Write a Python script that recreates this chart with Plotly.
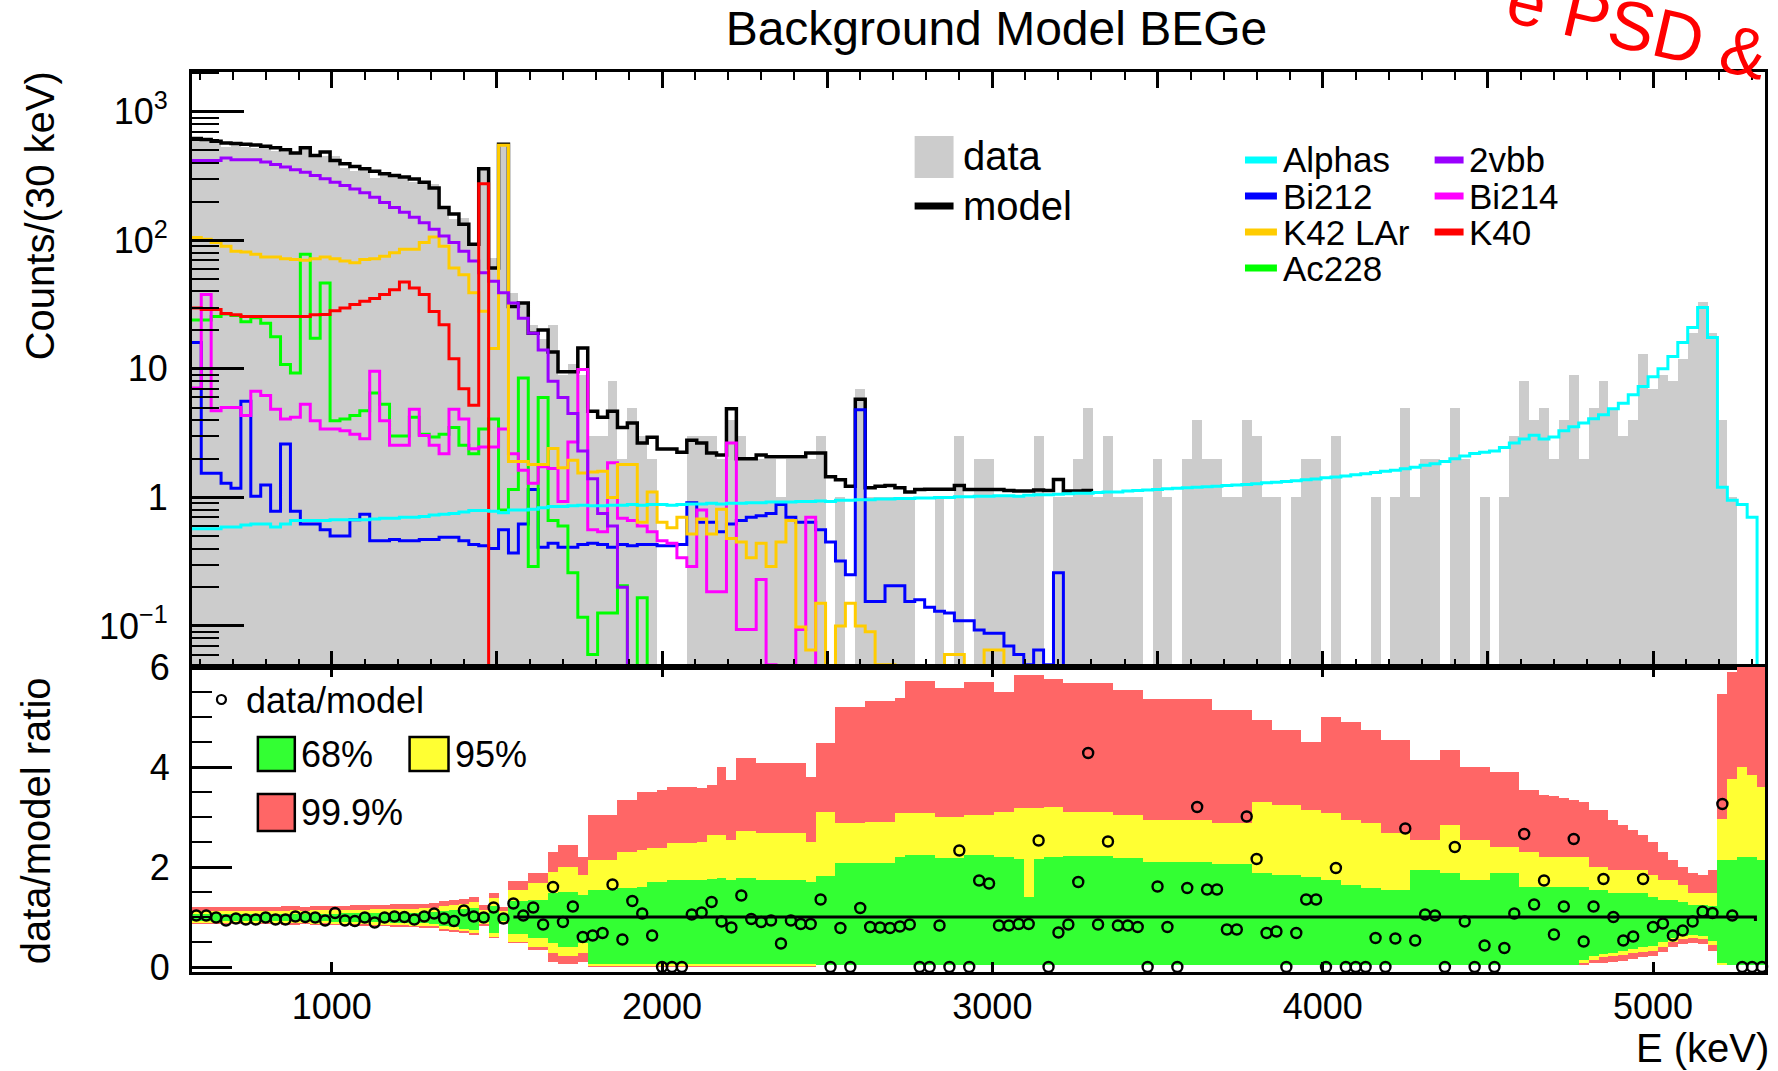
import numpy as np
import plotly.graph_objects as go

# ---------------- binning (30 keV bins) ----------------
bin_start = 575.0
bin_width = 30.0
n_bins = 159
x_range = [577, 5339]

# ---------------- top panel: counts per 30 keV ----------------
data_counts = [
    637, 625, 583, 531, 548, 530, 523, 533, 499, 482,
    483, 525, 452, 452, 451, 366, 345, 356, 307, 326,
    322, 310, 285, 286, 273, 175, 147, 150, 94, 356,
    73, 541, 39, 33, 22, 17, 22, 9, 11, 9,
    3, 3, 8, 2, 5, 3, 2, 0, 0, 0,
    3, 3, 3, 2, 4, 3, 2, 2, 2, 1,
    2, 2, 2, 3, 0, 1, 0, 7, 1, 1,
    1, 1, 1, 0, 0, 1, 0, 3, 0, 2,
    2, 1, 1, 1, 1, 3, 0, 1, 1, 2,
    5, 1, 3, 1, 1, 1, 0, 2, 1, 0,
    2, 4, 2, 2, 1, 1, 4, 3, 1, 1,
    0, 1, 2, 2, 0, 3, 0, 0, 0, 1,
    0, 1, 5, 1, 2, 2, 0, 5, 2, 0,
    1, 0, 1, 3, 8, 4, 5, 2, 4, 9,
    2, 5, 8, 5, 3, 4, 13, 7, 9, 8,
    12, 19, 33, 19, 4, 1, 0, 0, 0]

model = [
    618, 607, 589, 571, 565, 558, 551, 538, 525, 507,
    478, 525, 457, 486, 418, 394, 375, 360, 345, 329,
    319, 310, 300, 283, 255, 180, 160, 133, 93, 360,
    61, 558, 30.6, 32.5, 18.9, 20.1, 13.5, 9.5, 9.5, 14.5,
    4.67, 4.2, 4.67, 3.5, 3.8, 2.65, 2.94, 2.38, 2.38, 2.25,
    2.78, 2.65, 2.22, 2.14, 4.9, 2.0, 2.0, 2.14, 2.07, 2.07,
    2.07, 2.07, 2.22, 2.22, 1.45, 1.37, 1.22, 5.8, 1.19, 1.22,
    1.24, 1.19, 1.1, 1.15, 1.16, 1.16, 1.16, 1.24, 1.15, 1.15,
    1.15, 1.15, 1.13, 1.12, 1.12, 1.14, 1.13, 1.38, 1.12, 1.12,
    1.13]

alphas = [
    0.57, 0.57, 0.57, 0.59, 0.59, 0.61, 0.62, 0.62, 0.59, 0.62,
    0.66, 0.66, 0.66, 0.66, 0.67, 0.67, 0.67, 0.67, 0.68, 0.69,
    0.69, 0.70, 0.70, 0.71, 0.73, 0.74, 0.75, 0.77, 0.79, 0.79,
    0.78, 0.76, 0.80, 0.80, 0.81, 0.83, 0.85, 0.85, 0.86, 0.87,
    0.86, 0.86, 0.87, 0.87, 0.88, 0.87, 0.88, 0.88, 0.87, 0.88,
    0.89, 0.89, 0.90, 0.89, 0.90, 0.90, 0.91, 0.91, 0.92, 0.92,
    0.92, 0.93, 0.93, 0.94, 0.93, 0.95, 0.95, 0.96, 0.96, 0.97,
    0.97, 0.98, 0.98, 0.99, 0.99, 1.00, 1.00, 1.01, 1.01, 1.02,
    1.02, 1.03, 1.03, 1.02, 1.04, 1.05, 1.05, 1.06, 1.07, 1.08,
    1.08, 1.09, 1.10, 1.10, 1.12, 1.13, 1.14, 1.15, 1.17, 1.18,
    1.19, 1.20, 1.21, 1.22, 1.24, 1.25, 1.26, 1.28, 1.30, 1.31,
    1.33, 1.35, 1.37, 1.39, 1.42, 1.44, 1.47, 1.50, 1.53, 1.56,
    1.60, 1.63, 1.67, 1.72, 1.78, 1.83, 1.90, 2.00, 2.10, 2.20,
    2.25, 2.30, 2.45, 2.65, 2.85, 3.05, 2.85, 2.95, 3.30, 3.55,
    3.80, 4.10, 4.40, 4.90, 5.40, 6.30, 7.30, 8.70, 10.0, 12.5,
    16.0, 21.0, 30.0, 17.5, 1.20, 0.95, 0.88, 0.70, 0]

bi212 = [
    16, 1.54, 1.54, 1.29, 1.18, 5.6, 1.02, 1.25, 0.78, 2.6,
    0.78, 0.62, 0.62, 0.56, 0.50, 0.50, 0.67, 0.74, 0.46, 0.46,
    0.47, 0.46, 0.46, 0.47, 0.47, 0.49, 0.49, 0.46, 0.43, 0.42,
    0.40, 0.56, 0.37, 0.62, 1.15, 0.41, 0.44, 0.41, 0.41, 0.43,
    0.44, 0.43, 0.41, 0.43, 0.42, 0.43, 0.43, 0.42, 0.42, 0.43,
    0.91, 0.64, 0.64, 0.54, 0.62, 0.66, 0.70, 0.72, 0.75, 0.88,
    0.70, 0.64, 0.64, 0.56, 0.45, 0.32, 0.25, 4.8, 0.155, 0.155,
    0.206, 0.206, 0.155, 0.16, 0.14, 0.13, 0.126, 0.11, 0.11, 0.093,
    0.088, 0.088, 0.07, 0.06, 0.05, 0.065, 0.05, 0.26, 0]

k42_lar = [
    105, 102, 96, 90, 82, 81, 78, 74, 74, 72,
    71, 70, 72, 74, 72, 69, 67, 71, 72, 75,
    80, 85, 85, 96, 106, 90, 61, 54, 39, 28,
    14.4, 548, 1.9, 1.9, 1.8, 1.8, 2.4, 1.7, 1.95, 1.55,
    1.58, 1.6, 1.0, 1.8, 1.8, 0.64, 1.1, 0.64, 0.58, 0.70,
    0.52, 0.68, 0.52, 0.81, 0.48, 0.45, 0.34, 0.44, 0.29, 0.45,
    0.66, 0.098, 0.065, 0.15, 0, 0.1, 0.15, 0.1, 0.09, 0.05,
    0.05, 0, 0, 0, 0, 0, 0.06, 0.06, 0, 0,
    0.065, 0.065, 0]

ac228 = [
    24, 24, 25.5, 26.7, 26, 23.3, 25, 22.6, 17.8, 10.8,
    9.3, 78, 17.3, 46.6, 3.95, 4.07, 4.33, 4.72, 6.5, 5.3,
    3.0, 3.0, 4.2, 3.1, 2.95, 3.1, 3.5, 2.54, 2.19, 3.4,
    4.07, 0.80, 1.15, 8.5, 0.29, 6.0, 0.66, 0.6, 0.26, 0.117,
    0.06, 0.126, 0.126, 0.206, 0, 0.166, 0]

two_vbb = [
    418, 418, 418, 436, 424, 424, 424, 406, 389, 371,
    353, 339, 319, 301, 283, 267, 251, 234, 216, 197,
    180, 165, 151, 137, 122, 108, 96, 82, 69, 56,
    48, 39, 32.5, 24.8, 18.9, 14, 8, 6, 4.5, 2.3,
    1.4, 0.75, 0.6, 0.2, 0]

bi214 = [
    7.1, 37.8, 4.72, 5.0, 5.0, 4.33, 6.7, 6.2, 4.86, 4.07,
    4.2, 5.3, 3.95, 3.4, 3.4, 3.3, 3.1, 2.86, 9.6, 3.95,
    2.54, 2.54, 4.86, 3.03, 2.54, 2.19, 4.86, 4.07, 2.39, 2.47,
    2.47, 3.4, 2.19, 1.63, 1.29, 1.73, 1.68, 0.93, 2.7, 9.9,
    0.56, 0.54, 1.86, 0.69, 0.66, 0.6, 0.54, 0.46, 0.44, 0.34,
    0.29, 0.8, 0.185, 0.185, 2.65, 0.094, 0.094, 0.23, 0.05, 0,
    0, 0.094, 0.7, 0]

k40 = [
    29.7, 29, 29, 27, 26.3, 25.5, 25.5, 25.5, 25.5, 25.5,
    25.5, 25.5, 26.3, 26.5, 28.3, 29.7, 31.6, 33.5, 35.2, 37.8,
    41.3, 47.4, 42.6, 37.8, 27.9, 22, 12, 7, 5.2, 275, 0]

# ---------------- bottom panel: data/model ratio and bands ----------------
ratio = [
    1.03, 1.03, 0.99, 0.93, 0.97, 0.95, 0.95, 0.99, 0.95, 0.95,
    1.01, 1.00, 0.99, 0.93, 1.08, 0.93, 0.92, 0.99, 0.89, 0.99,
    1.01, 1.00, 0.95, 1.01, 1.07, 0.97, 0.92, 1.13, 1.01, 0.99,
    1.19, 0.97, 1.27, 1.03, 1.19, 0.85, 1.60, 0.90, 1.21, 0.60,
    0.63, 0.68, 1.65, 0.55, 1.32, 1.07, 0.63, 0.00, 0.00, 0.00,
    1.05, 1.09, 1.30, 0.91, 0.79, 1.43, 0.96, 0.90, 0.93, 0.47,
    0.93, 0.86, 0.86, 1.35, 0.00, 0.78, 0.00, 1.18, 0.80, 0.79,
    0.78, 0.81, 0.85, 0.00, 0.00, 0.83, 0.00, 2.33, 0.00, 1.73,
    1.67, 0.83, 0.83, 0.86, 0.86, 2.53, 0.00, 0.69, 0.85, 1.70,
    4.28, 0.85, 2.51, 0.83, 0.83, 0.80, 0.00, 1.61, 0.80, 0.00,
    1.58, 3.20, 1.55, 1.55, 0.75, 0.75, 3.01, 2.16, 0.68, 0.71,
    0.00, 0.68, 1.35, 1.35, 0.00, 1.98, 0.00, 0.00, 0.00, 0.58,
    0.00, 0.57, 2.77, 0.53, 1.05, 1.03, 0.00, 2.40, 0.91, 0.00,
    0.43, 0.00, 0.38, 1.07, 2.66, 1.25, 1.73, 0.65, 1.21, 2.56,
    0.51, 1.21, 1.76, 1.00, 0.53, 0.61, 1.76, 0.80, 0.87, 0.63,
    0.73, 0.91, 1.11, 1.08, 3.26, 1.03, 0.00, 0.00, 0.00]

band999_hi = [
    1.20, 1.20, 1.20, 1.21, 1.21, 1.21, 1.21, 1.21, 1.21, 1.22,
    1.22, 1.21, 1.22, 1.22, 1.23, 1.23, 1.24, 1.24, 1.25, 1.25,
    1.26, 1.26, 1.26, 1.27, 1.28, 1.32, 1.34, 1.37, 1.41, 1.24,
    1.48, 1.21, 1.73, 1.73, 1.88, 1.88, 2.31, 2.45, 2.45, 2.20,
    3.05, 3.05, 3.05, 3.35, 3.35, 3.51, 3.51, 3.55, 3.61, 3.61,
    3.61, 3.58, 3.65, 4.01, 3.75, 4.18, 4.18, 4.08, 4.08, 4.08,
    4.08, 4.08, 3.81, 4.48, 4.48, 5.21, 5.21, 5.21, 5.33, 5.33,
    5.33, 5.38, 5.73, 5.73, 5.73, 5.58, 5.58, 5.58, 5.71, 5.71,
    5.71, 5.51, 5.51, 5.85, 5.85, 5.85, 5.76, 5.76, 5.69, 5.69,
    5.69, 5.69, 5.69, 5.55, 5.55, 5.55, 5.36, 5.36, 5.36, 5.36,
    5.36, 5.36, 5.36, 5.15, 5.15, 5.15, 5.15, 4.95, 4.95, 4.75,
    4.75, 4.75, 4.51, 4.51, 5.01, 5.01, 4.91, 4.91, 4.75, 4.75,
    4.55, 4.55, 4.55, 4.15, 4.15, 4.15, 4.35, 4.35, 4.01, 4.01,
    4.01, 3.91, 3.91, 3.91, 3.55, 3.55, 3.45, 3.42, 3.38, 3.35,
    3.30, 3.15, 3.15, 2.95, 2.85, 2.75, 2.65, 2.50, 2.30, 2.15,
    2.00, 1.88, 1.85, 1.95, 5.46, 5.90, 6.10, 6.10, 6.10]

band95_hi = [
    1.12, 1.12, 1.12, 1.12, 1.13, 1.13, 1.13, 1.13, 1.13, 1.13,
    1.14, 1.13, 1.14, 1.14, 1.14, 1.15, 1.15, 1.15, 1.16, 1.16,
    1.16, 1.17, 1.17, 1.18, 1.19, 1.22, 1.24, 1.27, 1.30, 1.15,
    1.38, 1.13, 1.55, 1.55, 1.69, 1.69, 1.91, 2.00, 2.00, 1.85,
    2.15, 2.15, 2.15, 2.31, 2.31, 2.35, 2.38, 2.38, 2.48, 2.48,
    2.48, 2.51, 2.65, 2.65, 2.55, 2.73, 2.73, 2.68, 2.68, 2.68,
    2.68, 2.68, 2.51, 3.11, 3.11, 2.88, 2.88, 2.88, 2.91, 2.91,
    2.91, 3.08, 3.08, 3.08, 3.08, 3.01, 3.01, 3.01, 3.05, 3.05,
    3.05, 3.11, 3.11, 3.18, 3.18, 3.18, 3.21, 3.21, 3.11, 3.11,
    3.11, 3.11, 3.11, 3.05, 3.05, 3.05, 2.95, 2.95, 2.95, 2.95,
    2.95, 2.95, 2.95, 2.88, 2.88, 2.88, 2.88, 3.31, 3.31, 3.25,
    3.25, 3.25, 3.15, 3.15, 3.08, 3.08, 2.95, 2.95, 2.88, 2.88,
    2.68, 2.68, 2.68, 2.55, 2.55, 2.55, 2.85, 2.85, 2.55, 2.55,
    2.55, 2.41, 2.41, 2.41, 2.31, 2.31, 2.21, 2.21, 2.21, 2.21,
    2.21, 2.01, 2.01, 1.95, 1.95, 1.95, 1.95, 1.85, 1.75, 1.75,
    1.65, 1.48, 1.48, 1.48, 2.96, 3.77, 4.00, 3.84, 3.60]

band68_hi = [
    1.06, 1.06, 1.06, 1.06, 1.06, 1.06, 1.06, 1.07, 1.07, 1.07,
    1.07, 1.07, 1.07, 1.07, 1.07, 1.08, 1.08, 1.08, 1.08, 1.08,
    1.09, 1.09, 1.09, 1.10, 1.10, 1.13, 1.14, 1.17, 1.19, 1.08,
    1.23, 1.06, 1.33, 1.33, 1.35, 1.35, 1.48, 1.50, 1.50, 1.45,
    1.55, 1.55, 1.55, 1.58, 1.58, 1.61, 1.71, 1.71, 1.75, 1.75,
    1.75, 1.75, 1.77, 1.78, 1.75, 1.78, 1.78, 1.75, 1.75, 1.75,
    1.75, 1.75, 1.71, 1.83, 1.83, 2.08, 2.08, 2.08, 2.09, 2.09,
    2.09, 2.21, 2.25, 2.25, 2.25, 2.18, 2.18, 2.18, 2.25, 2.25,
    2.25, 2.21, 2.21, 2.16, 1.41, 2.16, 2.20, 2.20, 2.23, 2.23,
    2.23, 2.23, 2.23, 2.18, 2.18, 2.18, 2.11, 2.11, 2.11, 2.11,
    2.11, 2.11, 2.11, 2.07, 2.07, 2.07, 2.07, 1.88, 1.88, 1.85,
    1.85, 1.85, 1.81, 1.81, 1.75, 1.75, 1.65, 1.65, 1.58, 1.58,
    1.55, 1.55, 1.55, 1.95, 1.95, 1.95, 1.88, 1.88, 1.75, 1.75,
    1.75, 1.88, 1.88, 1.88, 1.61, 1.61, 1.61, 1.61, 1.61, 1.61,
    1.61, 1.55, 1.55, 1.48, 1.48, 1.48, 1.48, 1.40, 1.35, 1.35,
    1.30, 1.25, 1.25, 1.22, 2.15, 2.15, 2.20, 2.20, 2.15]

band68_lo = [
    0.93, 0.93, 0.93, 0.93, 0.93, 0.93, 0.93, 0.92, 0.92, 0.92,
    0.92, 0.92, 0.92, 0.92, 0.91, 0.91, 0.91, 0.90, 0.90, 0.90,
    0.89, 0.89, 0.88, 0.88, 0.87, 0.82, 0.80, 0.77, 0.74, 0.90,
    0.68, 0.93, 0.67, 0.67, 0.58, 0.58, 0.48, 0.41, 0.41, 0.48,
    0.06, 0.06, 0.06, 0.06, 0.06, 0.06, 0.06, 0.06, 0.06, 0.06,
    0.07, 0.07, 0.07, 0.07, 0.07, 0.07, 0.07, 0.07, 0.07, 0.07,
    0.07, 0.07, 0.07, 0.05, 0.05, 0.05, 0.05, 0.05, 0.05, 0.05,
    0.05, 0.05, 0.05, 0.05, 0.05, 0.05, 0.05, 0.05, 0.05, 0.05,
    0.05, 0.05, 0.05, 0.05, 0.05, 0.05, 0.05, 0.05, 0.05, 0.05,
    0.05, 0.05, 0.05, 0.05, 0.05, 0.05, 0.05, 0.05, 0.05, 0.05,
    0.05, 0.05, 0.05, 0.05, 0.05, 0.05, 0.05, 0.05, 0.05, 0.05,
    0.05, 0.05, 0.05, 0.05, 0.05, 0.05, 0.05, 0.05, 0.05, 0.05,
    0.05, 0.05, 0.05, 0.05, 0.05, 0.05, 0.05, 0.05, 0.05, 0.05,
    0.05, 0.05, 0.05, 0.05, 0.05, 0.05, 0.05, 0.05, 0.05, 0.05,
    0.15, 0.22, 0.26, 0.29, 0.32, 0.36, 0.40, 0.43, 0.50, 0.58,
    0.63, 0.65, 0.63, 0.53, 0.09, 0.05, 0.05, 0.05, 0.05]

band95_lo = [
    0.89, 0.89, 0.89, 0.89, 0.89, 0.89, 0.89, 0.88, 0.88, 0.88,
    0.88, 0.88, 0.87, 0.88, 0.87, 0.87, 0.86, 0.86, 0.85, 0.85,
    0.84, 0.84, 0.83, 0.83, 0.82, 0.77, 0.75, 0.72, 0.69, 0.86,
    0.61, 0.89, 0.51, 0.51, 0.41, 0.41, 0.28, 0.22, 0.22, 0.28,
    0.02, 0.02, 0.02, 0.02, 0.02, 0.02, 0.02, 0.02, 0.02, 0.02,
    0.02, 0.02, 0.02, 0.02, 0.02, 0.02, 0.02, 0.02, 0.02, 0.02,
    0.02, 0.02, 0.02, 0.05, 0.05, 0.05, 0.05, 0.05, 0.05, 0.05,
    0.05, 0.05, 0.05, 0.05, 0.05, 0.05, 0.05, 0.05, 0.05, 0.05,
    0.05, 0.05, 0.05, 0.05, 0.05, 0.05, 0.05, 0.05, 0.05, 0.05,
    0.05, 0.05, 0.05, 0.05, 0.05, 0.05, 0.05, 0.05, 0.05, 0.05,
    0.05, 0.05, 0.05, 0.05, 0.05, 0.05, 0.05, 0.05, 0.05, 0.05,
    0.05, 0.05, 0.05, 0.05, 0.05, 0.05, 0.05, 0.05, 0.05, 0.05,
    0.05, 0.05, 0.05, 0.05, 0.05, 0.05, 0.05, 0.05, 0.05, 0.05,
    0.05, 0.05, 0.05, 0.05, 0.05, 0.05, 0.05, 0.05, 0.05, 0.05,
    0.08, 0.15, 0.20, 0.22, 0.24, 0.28, 0.31, 0.33, 0.40, 0.50,
    0.56, 0.58, 0.56, 0.45, 0.05, 0.05, 0.05, 0.05, 0.05]

band999_lo = [
    0.87, 0.87, 0.87, 0.87, 0.86, 0.86, 0.86, 0.86, 0.86, 0.85,
    0.85, 0.86, 0.85, 0.85, 0.84, 0.84, 0.83, 0.83, 0.82, 0.82,
    0.81, 0.81, 0.80, 0.79, 0.78, 0.72, 0.71, 0.68, 0.65, 0.83,
    0.58, 0.86, 0.48, 0.48, 0.35, 0.35, 0.11, 0.06, 0.06, 0.11,
    0.00, 0.00, 0.00, 0.00, 0.00, 0.00, 0.00, 0.00, 0.00, 0.00,
    0.00, 0.00, 0.00, 0.00, 0.00, 0.00, 0.00, 0.00, 0.00, 0.00,
    0.00, 0.00, 0.00, 0.05, 0.05, 0.05, 0.05, 0.05, 0.05, 0.05,
    0.05, 0.05, 0.05, 0.05, 0.05, 0.05, 0.05, 0.05, 0.05, 0.05,
    0.05, 0.05, 0.05, 0.05, 0.05, 0.05, 0.05, 0.05, 0.05, 0.05,
    0.05, 0.05, 0.05, 0.05, 0.05, 0.05, 0.05, 0.05, 0.05, 0.05,
    0.05, 0.05, 0.05, 0.05, 0.05, 0.05, 0.05, 0.05, 0.05, 0.05,
    0.05, 0.05, 0.05, 0.05, 0.05, 0.05, 0.05, 0.05, 0.05, 0.05,
    0.05, 0.05, 0.05, 0.05, 0.05, 0.05, 0.05, 0.05, 0.05, 0.05,
    0.05, 0.05, 0.05, 0.05, 0.05, 0.05, 0.05, 0.05, 0.05, 0.05,
    0.05, 0.08, 0.09, 0.10, 0.12, 0.17, 0.21, 0.23, 0.30, 0.40,
    0.46, 0.48, 0.46, 0.32, 0.05, 0.05, 0.05, 0.05, 0.05]

ref_line_x = [1550, 5310, 5310]
ref_line_y = [1.0, 1.0, 0.92]

# tick labels
top_y_tickvals = [0.1, 1, 10, 100, 1000]
top_y_ticktext = ["10<sup>\u22121</sup>", "1", "10", "10<sup>2</sup>", "10<sup>3</sup>"]
top_y_minor = [m * 10.0 ** e for e in range(-2, 4) for m in range(2, 10)]
bot_x_tickvals = [1000, 2000, 3000, 4000, 5000]
bot_y_tickvals = [0, 2, 4, 6]

FONT = "Liberation Sans, Arial, Helvetica, sans-serif"

# ---------------- geometry helpers ----------------
edges = bin_start + bin_width * np.arange(n_bins + 1)
centers = edges[:-1] + bin_width / 2.0
FLOOR = 1e-4


def step_xy(vals):
    v = [FLOOR if (a is None or a <= 0) else a for a in vals]
    n = min(len(v), n_bins)
    v = v[:n]
    return list(edges[:n + 1]), v + [v[-1]]


fig = go.Figure()

# data histogram (gray)
fig.add_trace(go.Bar(
    x=centers, y=[c if c > 0 else None for c in data_counts], width=bin_width,
    marker=dict(color="#cccccc", line=dict(width=0)),
    xaxis="x", yaxis="y", showlegend=False, name="data"))

series = [
    ("model", model, "#000000", 3.5),
    ("Bi212", bi212, "#0000ff", 3),
    ("Ac228", ac228, "#00ff00", 3),
    ("Bi214", bi214, "#ff00ff", 3),
    ("K42 LAr", k42_lar, "#ffcc00", 3),
    ("2vbb", two_vbb, "#9a00ff", 3),
    ("K40", k40, "#ff0000", 3),
    ("Alphas", alphas, "#00ffff", 3),
]
for name, vals, col, lw in series:
    xs, ys = step_xy(vals)
    fig.add_trace(go.Scatter(x=xs, y=ys, mode="lines", name=name,
                             line=dict(color=col, width=lw, shape="hv"),
                             xaxis="x", yaxis="y", showlegend=False))

# ratio bands
for lo, hi, col, nm in [(band999_lo, band999_hi, "#ff6666", "99.9%"),
                        (band95_lo, band95_hi, "#ffff33", "95%"),
                        (band68_lo, band68_hi, "#33ff33", "68%")]:
    lo_a = np.array(lo, dtype=float)
    hi_a = np.array(hi, dtype=float)
    fig.add_trace(go.Bar(x=centers[:len(lo_a)], y=hi_a - lo_a, base=lo_a, width=bin_width,
                         marker=dict(color=col, line=dict(width=0)),
                         xaxis="x2", yaxis="y2", showlegend=False, name=nm))

fig.add_trace(go.Scatter(x=ref_line_x, y=ref_line_y, mode="lines",
                         line=dict(color="black", width=3),
                         xaxis="x2", yaxis="y2", showlegend=False))
fig.add_trace(go.Scatter(x=centers[:len(ratio)], y=ratio, mode="markers", name="data/model",
                         marker=dict(symbol="circle-open", size=10, color="black",
                                     line=dict(width=2.4, color="black")),
                         xaxis="x2", yaxis="y2", showlegend=False, cliponaxis=False))

# ---------------- layout ----------------
W, H = 1778, 1071
PL, PR, PT, PB = 192, 1768, 72, 972
split = (PB - 667) / (PB - PT)


def px(x):
    return (x - PL) / (PR - PL)


def py(y):
    return (PB - y) / (PB - PT)


axis_common = dict(showline=True, linecolor="black", linewidth=3, showgrid=False,
                   zeroline=False, tickcolor="black",
                   tickfont=dict(family=FONT, size=36, color="black"))

fig.update_layout(
    width=W, height=H,
    margin=dict(l=PL, r=W - PR, t=PT, b=H - PB),
    paper_bgcolor="white", plot_bgcolor="white",
    barmode="overlay", bargap=0,
    font=dict(family=FONT, color="black"),
    title=dict(text="Background Model BEGe", x=px(998), xref="paper", xanchor="center",
               y=1 - 28 / H, yref="container", yanchor="middle",
               font=dict(family=FONT, size=48, color="black")),
    xaxis=dict(domain=[0, 1], anchor="y", range=x_range, showticklabels=False,
               ticks="inside", tick0=0, dtick=500, ticklen=16, tickwidth=2.5,
               mirror="ticks",
               minor=dict(ticks="inside", tick0=0, dtick=100, ticklen=8, tickwidth=2,
                          tickcolor="black"),
               **axis_common),
    yaxis=dict(domain=[split, 1], anchor="x", type="log",
               range=[-1.319, 3.309], tickvals=top_y_tickvals, ticktext=top_y_ticktext,
               ticks="inside", ticklen=52, tickwidth=2.5, mirror=True,
               ticklabelstandoff=14,
               minor=dict(ticks="inside", tickvals=top_y_minor, ticklen=27, tickwidth=2,
                          tickcolor="black"),
               **axis_common),
    xaxis2=dict(domain=[0, 1], anchor="y2", range=x_range, tickvals=bot_x_tickvals,
                ticks="inside", ticklen=10, tickwidth=2.5, mirror="ticks",
                ticklabelstandoff=1,
                **axis_common),
    yaxis2=dict(domain=[0, split], anchor="x2", range=[-0.1, 6.0],
                tickvals=bot_y_tickvals, ticks="inside", ticklen=40, tickwidth=2.5,
                mirror=True, ticklabelstandoff=12,
                minor=dict(ticks="inside", tick0=0, dtick=0.5, ticklen=20, tickwidth=2,
                           tickcolor="black"),
                **axis_common),
)

ann = []
shapes = []


def text(x, y, s, size, xanchor="left", angle=0, color="black"):
    ann.append(dict(x=px(x), y=py(y), xref="paper", yref="paper", text=s, showarrow=False,
                    xanchor=xanchor, yanchor="middle", textangle=angle,
                    font=dict(family=FONT, size=size, color=color)))


# axis titles and overlay note
text(40, 216, "Counts/(30 keV)", 40, "center", angle=-90)
text(36, 821, "data/model ratio", 40, "center", angle=-90)
text(1774, 1048, "E (keV)", 40, "right")
text(1640, 28, "e PSD &", 69, "center", angle=13, color="#ff0000")

# legend 1 (data / model)
shapes.append(dict(type="rect", xref="paper", yref="paper", x0=px(916), x1=px(955),
                   y0=py(178), y1=py(136), fillcolor="#cccccc", line=dict(width=0)))
text(962, 156, "data", 40)
shapes.append(dict(type="line", xref="paper", yref="paper", x0=px(916), x1=px(955),
                   y0=py(206), y1=py(206), line=dict(color="black", width=7)))
text(962, 206, "model", 40)

# legend 2 (components)
legend_cols = [
    (1247, 1279, 1283, [("Alphas", "#00ffff"), ("Bi212", "#0000ff"),
                        ("K42 LAr", "#ffcc00"), ("Ac228", "#00ff00")]),
    (1437, 1466, 1469, [("2vbb", "#9a00ff"), ("Bi214", "#ff00ff"), ("K40", "#ff0000")]),
]
rows_y = [160, 196, 232, 268]
for x0, x1, xt, entries in legend_cols:
    for (lab, col), yy in zip(entries, rows_y):
        shapes.append(dict(type="line", xref="paper", yref="paper", x0=px(x0), x1=px(x1),
                           y0=py(yy), y1=py(yy), line=dict(color=col, width=7)))
        text(xt, yy, lab, 35)

# legend 3 (ratio panel)
shapes.append(dict(type="circle", xref="paper", yref="paper", x0=px(217), x1=px(226),
                   y0=py(704), y1=py(695), line=dict(color="black", width=2.2)))
text(244, 700, "data/model", 36)
for (x0, x1, y0, y1, col, lab) in [(258, 295, 737, 771, "#33ff33", "68%"),
                                   (410, 449, 737, 771, "#ffff33", "95%"),
                                   (258, 295, 794, 831, "#ff6666", "99.9%")]:
    shapes.append(dict(type="rect", xref="paper", yref="paper", x0=px(x0), x1=px(x1),
                       y0=py(y1), y1=py(y0), fillcolor=col,
                       line=dict(color="black", width=2.5)))
    text(x1 + 4, (y0 + y1) / 2, lab, 36)

fig.update_layout(annotations=ann, shapes=shapes)

fig.write_html("out.html", config={"displayModeBar": False},
               post_script="document.body.style.margin='0px';")
